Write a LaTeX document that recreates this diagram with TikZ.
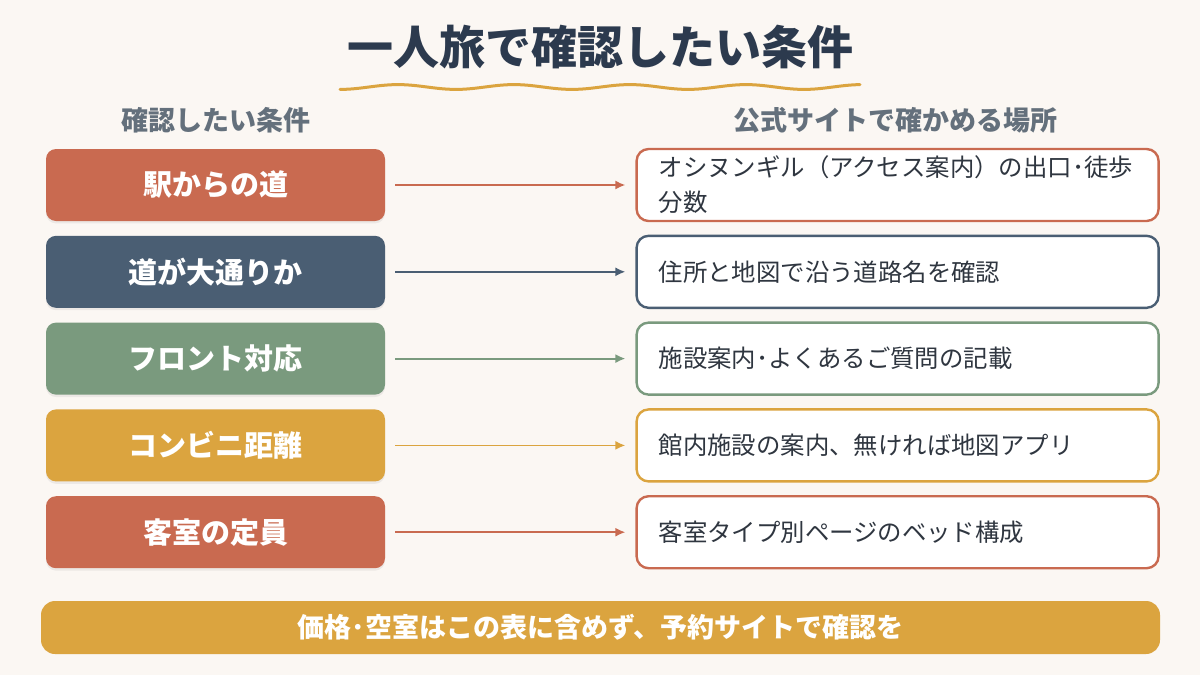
\documentclass[tikz,border=0pt]{standalone}
\usepackage{fontspec}
\setmainfont{Noto Sans CJK JP}
\usetikzlibrary{arrows.meta, positioning, shadows}
\definecolor{BgCream}{RGB}{251,247,243}
\definecolor{TitleNavy}{RGB}{44,58,78}
\definecolor{HeadGray}{RGB}{100,112,124}
\definecolor{TextDark}{RGB}{47,54,64}
\definecolor{CondRed}{RGB}{201,106,80}
\definecolor{CondNavy}{RGB}{74,94,115}
\definecolor{CondGreen}{RGB}{122,154,126}
\definecolor{CondGold}{RGB}{219,164,63}
\begin{document}
\begin{tikzpicture}[
          x=1pt, y=1pt,
          cond/.style={
            rounded corners=5pt,
            fill=#1,
            text=white,
            font=\bfseries\fontsize{14.5}{18}\selectfont,
            minimum width=169.5pt,
            minimum height=36pt,
            inner sep=0pt,
            drop shadow={opacity=0.12, shadow xshift=0pt, shadow yshift=-1.2pt}
          },
          place/.style={
            rounded corners=6pt,
            draw=#1,
            line width=1.2pt,
            fill=white,
            text=TextDark,
            font=\fontsize{12.2}{17.5}\selectfont,
            text width=239pt,
            inner xsep=11pt,
            inner ysep=0pt,
            minimum height=36pt,
            align=left
          },
          head/.style={text=HeadGray, font=\bfseries\fontsize{13.5}{16}\selectfont},
          arrow/.style={-{Latex[length=5pt, width=4.5pt]}, line width=0.9pt, #1, shorten <=5pt, shorten >=5pt},
          node distance=7pt and 125pt
        ]
        \fill[BgCream] (0,0) rectangle (600,-337.5);
        \useasboundingbox (0,0) rectangle (600,-337.5);
        % title and underline
        \node[text=TitleNavy, font=\bfseries\fontsize{23}{28}\selectfont] (title) at (300,-23.5) {一人旅で確認したい条件};
        \draw[CondGold, line width=1.5pt, line cap=round]
          plot[domain=170:430, samples=150] (\x, {-43.5 + 1.2*sin((\x-170)/58*360 - 90)});
        % column heads
        \node[head] (headL) at (107.75,-60) {確認したい条件};
        \node[head] (headR) at (447.5,-60) {公式サイトで確かめる場所};
        % conditions
        \node[cond=CondRed] (station) at (107.75,-92.5) {駅からの道};
        \node[cond=CondNavy, below=of station] (street) {道が大通りか};
        \node[cond=CondGreen, below=of street] (front) {フロント対応};
        \node[cond=CondGold, below=of front] (store) {コンビニ距離};
        \node[cond=CondRed, below=of store] (room) {客室の定員};
        % where to check
        \node[place=CondRed, right=of station] (access) {オシヌンギル（アクセス案内）の出口･徒歩\\分数};
        \node[place=CondNavy, right=of street] (address) {住所と地図で沿う道路名を確認};
        \node[place=CondGreen, right=of front] (faq) {施設案内･よくあるご質問の記載};
        \node[place=CondGold, right=of store] (facility) {館内施設の案内、無ければ地図アプリ};
        \node[place=CondRed, right=of room] (roomtype) {客室タイプ別ページのベッド構成};
        \draw[arrow=CondRed] (station) -- (access);
        \draw[arrow=CondNavy] (street) -- (address);
        \draw[arrow=CondGreen] (front) -- (faq);
        \draw[arrow=CondGold] (store) -- (facility);
        \draw[arrow=CondRed] (room) -- (roomtype);
        % footer note
        \node[rounded corners=7pt, fill=CondGold, text=white, font=\bfseries\fontsize{13.5}{16}\selectfont,
              minimum width=559.5pt, minimum height=26.5pt, inner sep=0pt] (note) at (300.25,-313.75)
              {価格･空室はこの表に含めず、予約サイトで確認を};
      \end{tikzpicture}
\end{document}
